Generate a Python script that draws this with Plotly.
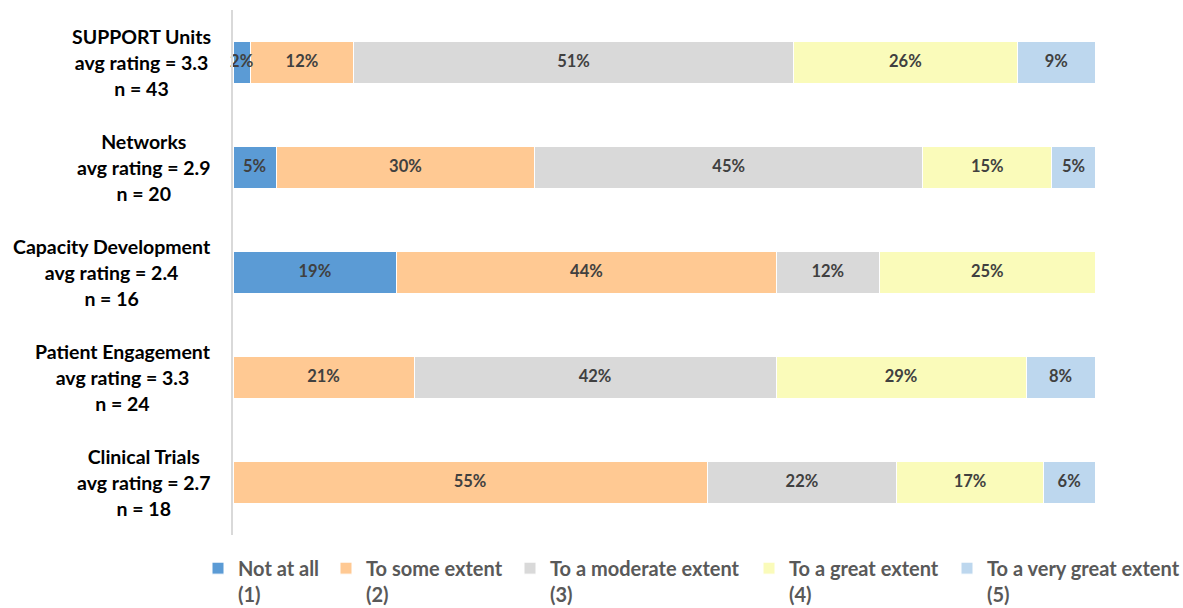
import plotly.graph_objects as go

# Survey categories (top to bottom) and their summary lines
categories = ["SUPPORT Units", "Networks", "Capacity Development",
              "Patient Engagement", "Clinical Trials"]
avg_ratings = ["3.3", "2.9", "2.4", "3.3", "2.7"]
respondents = [43, 20, 16, 24, 18]

# Response levels and percentage of respondents per category (None = no responses)
levels = ["Not at all<br>(1)", "To some extent<br>(2)", "To a moderate extent<br>(3)",
          "To a great extent<br>(4)", "To a very great extent<br>(5)"]
not_at_all = [2, 5, 19, None, None]
some_extent = [12, 30, 44, 21, 55]
moderate_extent = [51, 45, 12, 42, 22]
great_extent = [26, 15, 25, 29, 17]
very_great_extent = [9, 5, None, 8, 6]

series = [not_at_all, some_extent, moderate_extent, great_extent, very_great_extent]
colors = ["#5B9BD5", "#FFC993", "#D9D9D9", "#FAFBBA", "#BDD7EE"]

FONT = "Lato"
W, H = 1183, 608
M_L, M_R, M_T, M_B = 233, 88, 10, 73
plot_w = W - M_L - M_R

# left edge of each legend entry's text, in pixels
legend_text_px = [238, 366, 550, 789, 987]

fig = go.Figure()
for i, (name, vals, col) in enumerate(zip(levels, series, colors)):
    legend_id = "legend" if i == 0 else f"legend{i + 1}"
    fig.add_trace(go.Bar(
        y=categories,
        x=vals,
        orientation="h",
        name=name,
        marker=dict(color=col, line=dict(color="white", width=1)),
        legend=legend_id,
        hoverinfo="skip",
    ))

# percentage labels, placed at the middle of each stacked segment and
# drawn above all bars so narrow segments keep their full label
label_x, label_y, label_text = [], [], []
for c, cat in enumerate(categories):
    start = 0
    for vals in series:
        v = vals[c]
        if v is None:
            continue
        label_x.append(start + v / 2)
        label_y.append(cat)
        label_text.append(f"{v}%")
        start += v
fig.add_trace(go.Scatter(
    x=label_x, y=label_y, text=label_text, mode="text",
    textposition="middle center",
    textfont=dict(family=FONT, size=16.5, color="#404040", weight="bold"),
    showlegend=False, hoverinfo="skip", cliponaxis=False,
))

layout_legends = {}
for i, px in enumerate(legend_text_px):
    key = "legend" if i == 0 else f"legend{i + 1}"
    layout_legends[key] = dict(
        x=(px - 40 - M_L) / plot_w,
        xanchor="left",
        y=-0.026,
        yanchor="top",
        valign="top",
        bgcolor="rgba(0,0,0,0)",
        font=dict(family=FONT, size=20, color="#595959", weight="bold"),
    )

# category labels, centred line by line, right-aligned as a block
annotations = []
for cat, avg, n in zip(categories, avg_ratings, respondents):
    annotations.append(dict(
        x=(213 - M_L) / plot_w, xref="paper", xanchor="right",
        y=cat, yref="y", yanchor="middle",
        text=f'<span style="font-size:19.5px">{cat}<br>avg rating = {avg}<br>n = {n}</span>',
        showarrow=False, align="center",
        font=dict(family=FONT, size=20, color="#000000", weight="bold"),
    ))

fig.update_layout(
    width=W, height=H,
    margin=dict(l=M_L, r=M_R, t=M_T, b=M_B, autoexpand=False),
    barmode="stack",
    bargap=0.6,
    plot_bgcolor="white",
    paper_bgcolor="white",
    showlegend=True,
    annotations=annotations,
    xaxis=dict(range=[0, 100], showticklabels=False, showgrid=False,
               zeroline=False, showline=False, fixedrange=True),
    yaxis=dict(categoryorder="array", categoryarray=categories,
               range=[4.5, -0.5], showticklabels=False, showgrid=False,
               zeroline=False, showline=True, linecolor="#D9D9D9",
               linewidth=2, ticks="", fixedrange=True),
    **layout_legends,
)

fig.write_html("out.html", config={"displayModeBar": False})
